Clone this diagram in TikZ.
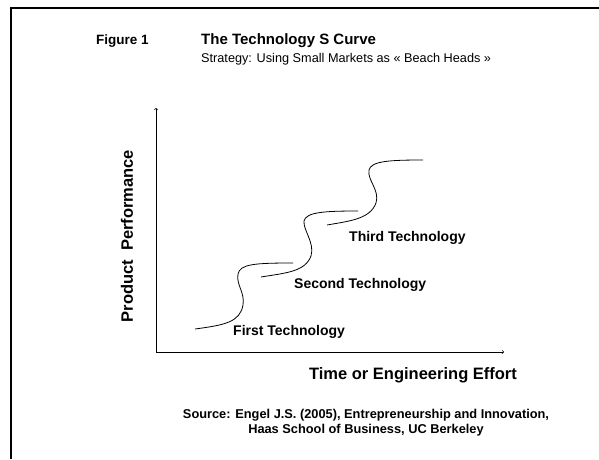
\documentclass[tikz,border=0pt]{standalone}
\usepackage{fontspec}
\setmainfont{Liberation Sans}
\usepackage{tikz}

\begin{document}
\begin{tikzpicture}[x=1pt,y=-1pt,
    every node/.style={inner sep=0pt},
    lbl/.style={font=\bfseries\fontsize{14}{16}\selectfont},
    axislbl/.style={font=\bfseries\fontsize{16.5}{18}\selectfont},
    scurve/.style={line width=0.8pt}]
    \useasboundingbox (0,0) rectangle (599,459);
    \draw[line width=2pt] (599,7.5) -- (11,7.5) -- (11,459);

    \node[anchor=base west,font=\bfseries\fontsize{13.5}{16}\selectfont] (fig) at (96,44) {Figure 1};
    \node[anchor=base west,font=\bfseries\fontsize{15}{18}\selectfont] (title) at (201,44) {The Technology S Curve};
    \node[anchor=base west,font=\fontsize{12.7}{15}\selectfont] (subtitle) at (201,62)
    {Strategy: Using Small Markets as « Beach Heads »};

    \coordinate (origin) at (156,352);
    \coordinate (ytip) at (156,108);
    \coordinate (xtip) at (504,352);
    \draw[->,line width=0.6pt] (origin) -- (ytip);
    \draw[->,line width=0.6pt] (origin) -- (xtip);

    \node[axislbl,rotate=90] (ylabel) at (127,236) {Product\ \ Performance};
    \node[axislbl] (xlabel) at (413,375) {Time or Engineering Effort};

    \draw[scurve] (195,329) .. controls (225,325) and (240,322) .. (243,305)
    .. controls (245,292) and (236,285) .. (238,274)
    .. controls (240,264) and (255,263) .. (293,263);
    \draw[scurve] (261,277) .. controls (285,273) and (305,272) .. (311,256)
    .. controls (315,243) and (303,230) .. (304,221)
    .. controls (306,212) and (325,211) .. (358,211);
    \draw[scurve] (327,225) .. controls (350,221) and (370,219) .. (376,203)
    .. controls (380,190) and (367,180) .. (369,170)
    .. controls (371,161) and (390,160) .. (423,160);

    \node[lbl,anchor=west] (first) at (233,332) {First Technology};
    \node[lbl,anchor=west] (second) at (294,285) {Second Technology};
    \node[lbl,anchor=west] (third) at (349,238) {Third Technology};

    \node[align=center,font=\bfseries\fontsize{12.8}{15}\selectfont] (source) at (366,423)
    {Source: Engel J.S. (2005), Entrepreneurship and Innovation,\\
    Haas School of Business, UC Berkeley};
\end{tikzpicture}
\end{document}
